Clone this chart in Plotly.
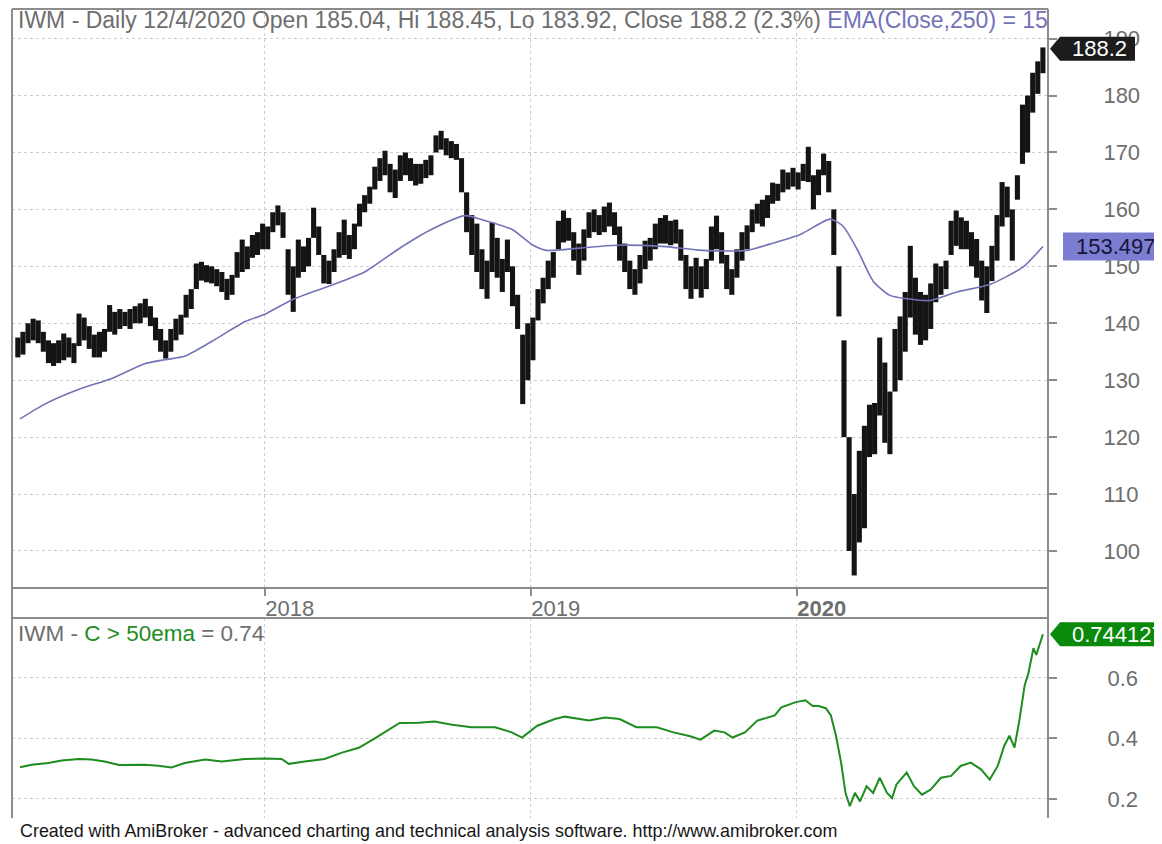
import pandas as pd
import plotly.graph_objects as go

# ---------------- data ----------------
week_dates = pd.date_range("2017-01-27", "2020-12-04", freq="W-FRI")

price_low = [
    134.0, 134.5, 136.5, 137, 136.5, 135, 133, 132.5, 133, 133.5,
    134, 133, 136, 137, 135.5, 134, 134, 135, 138.5, 138,
    139, 139.5, 139, 140, 140, 141, 139.5, 137, 135, 133.8,
    135, 137, 138, 141, 142.5, 146, 147.5, 147.2, 147, 146.5,
    145.5, 144.1, 145, 148, 149, 149.5, 151.5, 152, 153, 153,
    156, 157.2, 155, 145, 142, 148, 149, 150, 155, 152,
    147, 146.9, 149, 151.5, 152, 151.3, 153, 157, 159.5, 161,
    163.5, 165, 166, 163, 162, 165, 166, 165, 164.2, 164.5,
    165.5, 166, 170, 170.5, 169.5, 169, 168.7, 163, 156, 152,
    149, 146, 144.3, 149, 148, 145.5, 149, 143, 139, 125.8,
    130, 133.5, 140.5, 143.5, 146, 148, 153, 154.2, 154.5, 151,
    148.5, 151, 155, 156, 155.5, 156, 157, 155.5, 151, 149,
    146, 145, 147, 149.5, 151, 153, 154, 154, 153.7, 154,
    151, 146, 144.3, 146, 144.5, 146, 151, 153, 150.5, 146,
    145, 148, 151, 153, 156, 157.5, 157, 158.5, 161, 161.5,
    163, 163.5, 164, 163.5, 165, 164.8, 160, 162.5, 166, 163,
    152, 141.2, 120, 100, 95.7, 101.5, 104, 116.5, 117, 123.8,
    119, 117, 128, 130, 135, 141, 138, 136.2, 137, 139,
    143.7, 145, 146, 152, 153.6, 153, 153, 150, 148, 144,
    141.8, 147.4, 151, 157, 158.6, 151, 161.7, 168, 170, 177,
    180.3, 183.92,
]

price_high = [
    137.5, 138.5, 140, 140.8, 140.5, 138.5, 137, 136.5, 137, 138.2,
    137.5, 136.5, 141.7, 141, 139.5, 138, 138.5, 139, 143.2, 142,
    142.5, 142, 142.5, 143, 143.5, 144.3, 143, 141, 139, 137,
    139, 140.8, 141.5, 145, 146, 150.5, 150.8, 150.2, 150, 149.5,
    149, 147.8, 148.5, 152.5, 154.7, 153.5, 155.5, 156, 157.5, 157,
    159.5, 160.7, 159.5, 153, 150, 154.7, 153.5, 155, 160.3, 157,
    152, 151, 153, 156, 158.2, 155.5, 157.5, 161, 162.5, 164,
    167.5, 169, 170.3, 168, 167, 169.5, 170, 169, 168, 168,
    168.7, 169.5, 173, 173.8, 172.5, 172, 171.5, 169, 163, 159,
    157.5, 153, 151, 157.7, 155, 151.3, 154.7, 150, 145, 138,
    140, 141, 146, 148, 151, 152.5, 158, 159.8, 158.5, 156,
    154, 156.5, 159.5, 160, 159, 160.5, 161.2, 159.5, 157, 154,
    151, 149.5, 152, 154.5, 155, 157.5, 158.5, 159, 158, 158.2,
    156.5, 152, 150, 151.5, 150, 151.3, 157, 158.9, 156, 152,
    149.5, 153, 156, 157.2, 160, 161, 161.7, 162.5, 164.7, 164.5,
    167, 166.5, 167.3, 166.5, 168, 171, 166, 167, 169.8, 168.5,
    160, 150, 137, 120, 110, 117.6, 122, 125.7, 126, 137.5,
    133.1, 128, 139, 141.2, 145.5, 153.6, 148, 145.5, 145, 147,
    150.5, 150, 151, 158, 159.8, 158.6, 158, 156, 154.8, 151,
    150, 153.6, 159, 164.8, 164, 160, 166, 178.4, 180, 184,
    186, 188.45,
]

ema_dates = [
    "2017-01-30", "2017-03-05", "2017-04-21", "2017-06-05", "2017-07-20",
    "2017-08-17", "2017-09-13", "2017-10-20", "2017-12-05", "2018-01-01",
    "2018-02-07", "2018-04-03", "2018-05-18", "2018-07-03", "2018-08-18",
    "2018-10-03", "2018-10-26", "2018-12-06", "2019-01-03", "2019-01-23",
    "2019-03-09", "2019-04-29", "2019-07-01", "2019-08-25", "2019-10-25",
    "2019-11-25", "2020-01-06", "2020-02-16", "2020-03-05", "2020-03-24",
    "2020-04-15", "2020-05-08", "2020-06-01", "2020-07-02", "2020-08-08",
    "2020-09-22", "2020-11-07", "2020-12-04",
]
ema_values = [
    123.2, 125.8, 128.4, 130.3, 132.9,
    133.6, 134.2, 136.8, 140.3, 141.6,
    144.1, 146.7, 149.0, 153.0, 156.5,
    158.9, 158.2, 156.5, 153.8, 152.8,
    153.2, 153.7, 153.5, 152.8, 152.8,
    153.9, 155.6, 158.3, 157.0, 153.0,
    147.4, 144.9, 144.3, 144.0, 145.5,
    146.8, 149.9, 153.497,
]

ind_dates = [
    "2017-01-30", "2017-02-15", "2017-03-10", "2017-03-28", "2017-04-21",
    "2017-05-08", "2017-05-26", "2017-06-15", "2017-07-20", "2017-08-08",
    "2017-08-26", "2017-09-13", "2017-10-11", "2017-11-03", "2017-12-05",
    "2018-01-01", "2018-01-24", "2018-02-03", "2018-02-25", "2018-03-24",
    "2018-04-17", "2018-05-10", "2018-06-01", "2018-06-20", "2018-07-05",
    "2018-07-31", "2018-08-22", "2018-09-15", "2018-10-12", "2018-11-13",
    "2018-12-06", "2018-12-20", "2019-01-10", "2019-02-03", "2019-02-17",
    "2019-03-22", "2019-04-13", "2019-05-03", "2019-05-26", "2019-06-23",
    "2019-07-16", "2019-08-08", "2019-08-22", "2019-09-10", "2019-09-24",
    "2019-10-05", "2019-10-22", "2019-11-08", "2019-12-02", "2019-12-11",
    "2019-12-31", "2020-01-13", "2020-01-23", "2020-01-31", "2020-02-10",
    "2020-02-17", "2020-02-24", "2020-03-02", "2020-03-08", "2020-03-14",
    "2020-03-21", "2020-03-28", "2020-04-06", "2020-04-15", "2020-04-24",
    "2020-05-04", "2020-05-11", "2020-05-17", "2020-05-31", "2020-06-10",
    "2020-06-21", "2020-07-03", "2020-07-17", "2020-07-31", "2020-08-13",
    "2020-08-27", "2020-09-10", "2020-09-22", "2020-10-03", "2020-10-12",
    "2020-10-19", "2020-10-26", "2020-11-02", "2020-11-09", "2020-11-14",
    "2020-11-21", "2020-11-25", "2020-12-04",
]
ind_values = [
    0.305, 0.313, 0.319, 0.327, 0.332,
    0.330, 0.324, 0.312, 0.313, 0.310,
    0.304, 0.319, 0.330, 0.324, 0.332,
    0.334, 0.332, 0.316, 0.324, 0.332,
    0.353, 0.369, 0.400, 0.429, 0.451,
    0.452, 0.456, 0.445, 0.437, 0.437,
    0.420, 0.403, 0.442, 0.464, 0.472,
    0.459, 0.469, 0.464, 0.437, 0.437,
    0.420, 0.407, 0.396, 0.426, 0.420,
    0.403, 0.420, 0.459, 0.476, 0.503,
    0.520, 0.526, 0.507, 0.507, 0.500,
    0.476, 0.409, 0.320, 0.220, 0.176,
    0.220, 0.192, 0.242, 0.220, 0.270,
    0.220, 0.203, 0.248, 0.287, 0.242,
    0.214, 0.231, 0.270, 0.276, 0.309,
    0.320, 0.298, 0.264, 0.309, 0.376,
    0.409, 0.370, 0.464, 0.576, 0.614,
    0.698, 0.676, 0.744127,
]

year_ticks = ["2018-01-01", "2019-01-01", "2020-01-01"]
year_labels = ["2018", "2019", "<b>2020</b>"]
price_ticks = [100, 110, 120, 130, 140, 150, 160, 170, 180, 190]
ind_ticks = [0.2, 0.4, 0.6]

last_close = 188.2
last_ema = 153.497
last_ind = 0.744127

title_main = "IWM - Daily 12/4/2020 Open 185.04, Hi 188.45, Lo 183.92, Close 188.2 (2.3%) "
title_ema = "EMA(Close,250) = 15"
footer = "Created with AmiBroker - advanced charting and technical analysis software. http://www.amibroker.com"

# ---------------- styling ----------------
# the page body has an 8px margin, so the figure starts at (8, 8) of the window
OFF = 8
W, H = 1154, 836
FONT = "Liberation Sans, Arial, sans-serif"
GREY_TXT = "#6e6e6e"
BORDER = "#8c8c8c"
GRID = "#cdcdcd"
EMA_COL = "#7272b8"
IND_COL = "#1e8c1e"


def px(x):
    return min(1.0, max(0.0, (x - OFF) / W))


def py(y):
    return min(1.0, max(0.0, 1 - (y - OFF) / H))


X_L, X_R = 12, 1048
P_TOP, P_BOT = 9, 588
I_TOP, I_BOT = 618, 818
x_range = ["2017-01-19", "2020-12-11"]

fig = go.Figure()

fig.add_trace(go.Bar(
    x=week_dates, base=price_low,
    y=[h - l for h, l in zip(price_high, price_low)],
    width=7 * 86400000, marker=dict(color="#141414", line=dict(width=0)),
    xaxis="x", yaxis="y", showlegend=False, hoverinfo="skip",
))
fig.add_trace(go.Scatter(
    x=ema_dates, y=ema_values, mode="lines",
    line=dict(color=EMA_COL, width=1.6, shape="spline", smoothing=0.6),
    xaxis="x", yaxis="y", showlegend=False, hoverinfo="skip",
))
fig.add_trace(go.Scatter(
    x=ind_dates, y=ind_values, mode="lines",
    line=dict(color=IND_COL, width=2),
    xaxis="x2", yaxis="y2", showlegend=False, hoverinfo="skip",
))

axis_font = dict(family=FONT, size=22, color=GREY_TXT)

fig.update_layout(
    width=W, height=H,
    margin=dict(l=0, r=0, t=0, b=0),
    paper_bgcolor="white", plot_bgcolor="white",
    font=dict(family=FONT, size=22, color=GREY_TXT),
    hovermode=False,
    xaxis=dict(
        domain=[px(X_L), px(X_R)], anchor="y", range=x_range,
        tickvals=year_ticks, ticktext=year_labels,
        ticks="outside", ticklen=7, tickcolor=BORDER, tickwidth=1.5,
        tickfont=axis_font, ticklabelshift=25, ticklabelstandoff=-6,
        showgrid=True, gridcolor=GRID, griddash="dot", gridwidth=1,
        showline=False, zeroline=False,
    ),
    yaxis=dict(
        domain=[py(P_BOT), py(P_TOP)], anchor="x", side="right",
        range=[93.5, 195.2], tickvals=price_ticks,
        ticks="outside", ticklen=8, tickcolor=BORDER, tickwidth=1.5,
        tickfont=axis_font, ticklabelstandoff=42,
        showgrid=True, gridcolor=GRID, griddash="dot", gridwidth=1,
        showline=False, zeroline=False,
    ),
    xaxis2=dict(
        domain=[px(X_L), px(X_R)], anchor="y2", range=x_range,
        tickvals=year_ticks, showticklabels=False, ticks="",
        showgrid=True, gridcolor=GRID, griddash="dot", gridwidth=1,
        showline=False, zeroline=False,
    ),
    yaxis2=dict(
        domain=[py(I_BOT), py(I_TOP)], anchor="x2", side="right",
        range=[0.137, 0.798], tickvals=ind_ticks,
        ticktext=[f"{v:.1f}" for v in ind_ticks],
        ticks="outside", ticklen=8, tickcolor=BORDER, tickwidth=1.5,
        tickfont=axis_font, ticklabelstandoff=46,
        showgrid=True, gridcolor=GRID, griddash="dot", gridwidth=1,
        showline=False, zeroline=False,
    ),
)

# panel borders
line_style = dict(color=BORDER, width=2)
for (x0, y0, x1, y1) in [
    (X_L, P_TOP, X_R, P_TOP),
    (X_L, P_BOT, X_R, P_BOT),
    (X_L, I_TOP, X_R, I_TOP),
    (X_L, P_TOP, X_L, I_BOT),
    (X_R, P_TOP, X_R, I_BOT),
]:
    fig.add_shape(type="line", xref="paper", yref="paper",
                  x0=px(x0), y0=py(y0), x1=px(x1), y1=py(y1),
                  line=line_style, layer="above")

# value callouts
fig.add_shape(type="path", xref="paper", yref="y",
              xsizemode="pixel", ysizemode="pixel",
              xanchor=px(X_R), yanchor=last_close,
              path="M 2,0 L 12,12 L 87,12 L 87,-12 L 12,-12 Z",
              fillcolor="#1c1c1c", line=dict(width=0), layer="above")
fig.add_annotation(x=px(X_R + 51), y=last_close, xref="paper", yref="y",
                   text=f"{last_close}", showarrow=False,
                   font=dict(family=FONT, size=22, color="white"),
                   xanchor="center", yanchor="middle")

fig.add_shape(type="path", xref="paper", yref="y",
              xsizemode="pixel", ysizemode="pixel",
              xanchor=px(X_R), yanchor=last_ema,
              path="M 15,-14 L 120,-14 L 120,14 L 15,14 Z",
              fillcolor="#7c7cd0", line=dict(width=0), layer="above")
fig.add_annotation(x=px(1074), y=last_ema, xref="paper", yref="y",
                   text=f"{last_ema}", showarrow=False,
                   font=dict(family=FONT, size=22, color="#15153a"),
                   xanchor="left", yanchor="middle")

fig.add_shape(type="path", xref="paper", yref="y2",
              xsizemode="pixel", ysizemode="pixel",
              xanchor=px(X_R), yanchor=last_ind,
              path="M 2,0 L 12,12 L 120,12 L 120,-12 L 12,-12 Z",
              fillcolor="#0a8a0a", line=dict(width=0), layer="above")
fig.add_annotation(x=px(1070), y=last_ind, xref="paper", yref="y2",
                   text=f"{last_ind}", showarrow=False,
                   font=dict(family=FONT, size=22, color="white"),
                   xanchor="left", yanchor="middle")

# panel titles
fig.add_annotation(
    x=px(16), y=py(20), xref="paper", yref="paper",
    text=(f"<span style='color:{GREY_TXT}'>{title_main}</span>"
          f"<span style='color:{EMA_COL}'>{title_ema}</span>"),
    showarrow=False, xanchor="left", yanchor="middle",
    font=dict(family=FONT, size=23, color=GREY_TXT),
)
fig.add_annotation(
    x=px(16), y=py(633), xref="paper", yref="paper",
    text=(f"<span style='color:{GREY_TXT}'>IWM - </span>"
          f"<span style='color:{IND_COL}'>C &gt; 50ema</span>"
          f"<span style='color:{GREY_TXT}'> = 0.74</span>"),
    showarrow=False, xanchor="left", yanchor="middle",
    font=dict(family=FONT, size=22.5, color=GREY_TXT),
)
fig.add_annotation(
    x=px(18), y=py(831), xref="paper", yref="paper",
    text=footer, showarrow=False, xanchor="left", yanchor="middle",
    font=dict(family=FONT, size=17.9, color="#161616"),
)

fig.write_html("out.html")
